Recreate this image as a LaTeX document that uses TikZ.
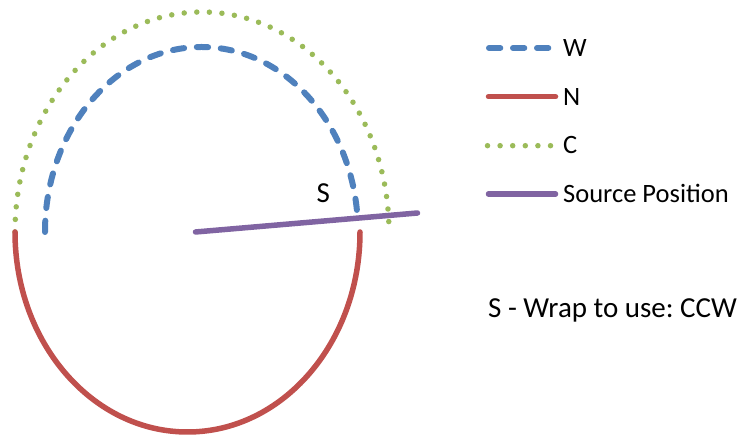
\documentclass[tikz,border=0pt]{standalone}
\usepackage{fontspec}
\setmainfont{Carlito}
\frenchspacing
\definecolor{wblue}{HTML}{4F81BD}
\definecolor{nred}{HTML}{C0504D}
\definecolor{cgreen}{HTML}{9BBB59}
\definecolor{spurple}{HTML}{8064A2}
\tikzset{
  wline/.style={draw=wblue, line width=6pt, line cap=round, dash pattern=on 11.3pt off 12.7pt},
  nline/.style={draw=nred, line width=5.5pt, line cap=round},
  cline/.style={draw=cgreen, line width=5.5pt, line cap=round, dash pattern=on 0pt off 12.6pt},
  sline/.style={draw=spurple, line width=5.5pt, line cap=round},
  legtext/.style={anchor=base west, inner sep=0pt, font=\fontsize{26.5}{30}\selectfont},
  bigtext/.style={anchor=base west, inner sep=0pt, font=\fontsize{29}{34}\selectfont}
}
\begin{document}
\begin{tikzpicture}[x=1pt,y=1pt]
\useasboundingbox (0,0) rectangle (744,438);
% arcs
\coordinate (cstart) at (15,206);
\coordinate (wstart) at (45,206);
\coordinate (nstart) at (15,206);
\draw[cline] (cstart) arc[start angle=180, end angle=1.5, x radius=187, y radius=220];
\draw[wline] (wstart) arc[start angle=180, end angle=5, x radius=156.5, y radius=185];
\draw[nline] (nstart) arc[start angle=180, end angle=360, x radius=172.5, y radius=200];
% source position
\coordinate (src0) at (195.5,206);
\coordinate (src1) at (417.5,225);
\draw[sline] (src0) -- (src1);
\node[bigtext] (slabel) at (316.5,235) {S};
% legend
\coordinate (lw0) at (489,390); \coordinate (lw1) at (548.7,390);
\coordinate (ln0) at (488.5,341.3); \coordinate (ln1) at (555.5,341.3);
\coordinate (lc0) at (487.5,292.3); \coordinate (lc1) at (551,292.3);
\coordinate (ls0) at (488.5,244); \coordinate (ls1) at (555.5,244);
\draw[wline] (lw0) -- (lw1);
\draw[nline] (ln0) -- (ln1);
\draw[cline] (lc0) -- (lc1);
\draw[sline] (ls0) -- (ls1);
\node[legtext] (tw) at (563,381.3) {W};
\node[legtext] (tn) at (563,332) {N};
\node[legtext] (tc) at (563,284.7) {C};
\node[legtext] (ts) at (563,235.3) {Source Position};
\node[bigtext] (note) at (488,120) {S - Wrap to use: CCW};
\end{tikzpicture}
\end{document}
